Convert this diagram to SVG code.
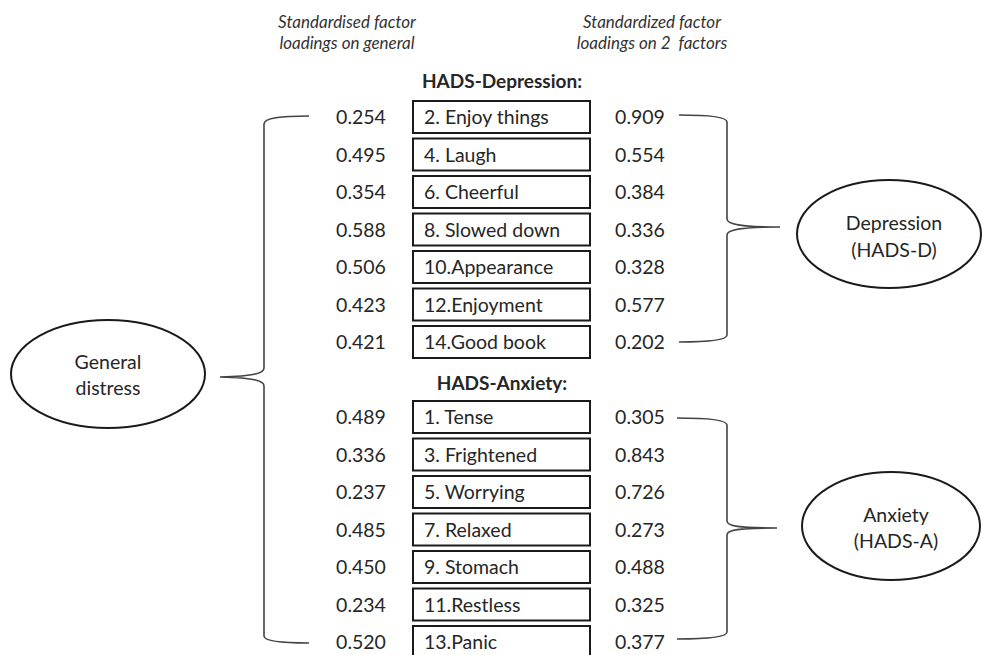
<svg xmlns="http://www.w3.org/2000/svg" width="982" height="655" viewBox="0 0 982 655">
<style>
text{font-family:Lato,"Open Sans","Liberation Sans",sans-serif;fill:#262626}
.hdr{font-size:17px;font-style:italic;text-anchor:middle;fill:#333}
.ttl{font-size:19px;font-weight:bold;text-anchor:middle}
.num{font-size:19.5px;text-anchor:middle}
.lbl{font-size:19.5px}
.ell{font-size:19.5px;text-anchor:middle}
.box{fill:#fff;stroke:#1a1a1a;stroke-width:2}
.oval{fill:#fff;stroke:#1a1a1a;stroke-width:2}
.br{fill:none;stroke:#444;stroke-width:1.6}
</style>
<rect width="982" height="655" fill="#fff"/>
<g id="headers">
<text class="hdr" x="347" y="28">Standardised factor</text>
<text class="hdr" x="347" y="49">loadings on general</text>
<text class="hdr" x="652" y="28">Standardized factor</text>
<text class="hdr" x="652" y="49" xml:space="preserve">loadings on 2  factors</text>
<text class="ttl" x="502" y="88">HADS-Depression:</text>
<text class="ttl" x="502" y="390">HADS-Anxiety:</text>
</g>
<g id="connectors">
<path class="br" d="M309,116 C280,116 264,118 264,124 L264,368 C264,373 256,376 220,377 C256,378 264,381 264,386 L264,636 C264,641 280,643 309,643"/>
<path class="br" d="M679,115 C710,115 727,117 727,122 L727,219 C727,224 740,227 780,227 C740,227 727,230 727,235 L727,335 C727,340 710,342 679,342"/>
<path class="br" d="M677,418 C708,418 727,420 727,425 L727,521 C727,526 738,528 777,528 C738,528 727,530 727,535 L727,632 C727,637 708,639 677,639"/>
</g>
<g id="general-distress">
<ellipse class="oval" cx="108" cy="374" rx="97" ry="54"/>
<text class="ell" x="108" y="369">General</text>
<text class="ell" x="108" y="395">distress</text>
</g>
<g id="depression">
<ellipse class="oval" cx="889" cy="234" rx="92" ry="54"/>
<text class="ell" x="894" y="230">Depression</text>
<text class="ell" x="894" y="257">(HADS-D)</text>
</g>
<g id="anxiety">
<ellipse class="oval" cx="891" cy="526" rx="89" ry="54"/>
<text class="ell" x="896" y="522">Anxiety</text>
<text class="ell" x="896" y="548">(HADS-A)</text>
</g>
<g id="item-2"><rect class="box" x="413" y="101" width="177" height="32"/><text class="lbl" x="424" y="124">2. Enjoy things</text><text class="num" x="361" y="124">0.254</text><text class="num" x="640" y="124">0.909</text></g>
<g id="item-4"><rect class="box" x="413" y="138.5" width="177" height="32"/><text class="lbl" x="424" y="161.5">4. Laugh</text><text class="num" x="361" y="161.5">0.495</text><text class="num" x="640" y="161.5">0.554</text></g>
<g id="item-6"><rect class="box" x="413" y="176" width="177" height="32"/><text class="lbl" x="424" y="199">6. Cheerful</text><text class="num" x="361" y="199">0.354</text><text class="num" x="640" y="199">0.384</text></g>
<g id="item-8"><rect class="box" x="413" y="213.5" width="177" height="32"/><text class="lbl" x="424" y="236.5">8. Slowed down</text><text class="num" x="361" y="236.5">0.588</text><text class="num" x="640" y="236.5">0.336</text></g>
<g id="item-10"><rect class="box" x="413" y="251" width="177" height="32"/><text class="lbl" x="424" y="274">10.Appearance</text><text class="num" x="361" y="274">0.506</text><text class="num" x="640" y="274">0.328</text></g>
<g id="item-12"><rect class="box" x="413" y="288.5" width="177" height="32"/><text class="lbl" x="424" y="311.5">12.Enjoyment</text><text class="num" x="361" y="311.5">0.423</text><text class="num" x="640" y="311.5">0.577</text></g>
<g id="item-14"><rect class="box" x="413" y="326" width="177" height="32"/><text class="lbl" x="424" y="349">14.Good book</text><text class="num" x="361" y="349">0.421</text><text class="num" x="640" y="349">0.202</text></g>
<g id="item-1"><rect class="box" x="413" y="401" width="177" height="32"/><text class="lbl" x="424" y="424">1. Tense</text><text class="num" x="361" y="424">0.489</text><text class="num" x="640" y="424">0.305</text></g>
<g id="item-3"><rect class="box" x="413" y="438.5" width="177" height="32"/><text class="lbl" x="424" y="461.5">3. Frightened</text><text class="num" x="361" y="461.5">0.336</text><text class="num" x="640" y="461.5">0.843</text></g>
<g id="item-5"><rect class="box" x="413" y="476" width="177" height="32"/><text class="lbl" x="424" y="499">5. Worrying</text><text class="num" x="361" y="499">0.237</text><text class="num" x="640" y="499">0.726</text></g>
<g id="item-7"><rect class="box" x="413" y="513.5" width="177" height="32"/><text class="lbl" x="424" y="536.5">7. Relaxed</text><text class="num" x="361" y="536.5">0.485</text><text class="num" x="640" y="536.5">0.273</text></g>
<g id="item-9"><rect class="box" x="413" y="551" width="177" height="32"/><text class="lbl" x="424" y="574">9. Stomach</text><text class="num" x="361" y="574">0.450</text><text class="num" x="640" y="574">0.488</text></g>
<g id="item-11"><rect class="box" x="413" y="588.5" width="177" height="32"/><text class="lbl" x="424" y="611.5">11.Restless</text><text class="num" x="361" y="611.5">0.234</text><text class="num" x="640" y="611.5">0.325</text></g>
<g id="item-13"><rect class="box" x="413" y="626" width="177" height="32"/><text class="lbl" x="424" y="649">13.Panic</text><text class="num" x="361" y="649">0.520</text><text class="num" x="640" y="649">0.377</text></g>
</svg>
